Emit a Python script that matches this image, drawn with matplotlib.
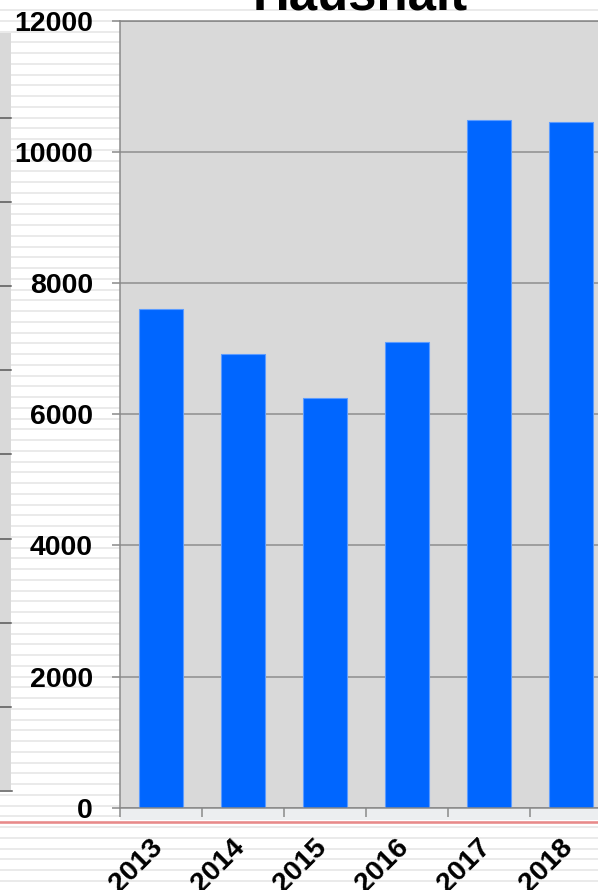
import matplotlib.pyplot as plt
from matplotlib.patches import Rectangle
from matplotlib.lines import Line2D
from matplotlib.transforms import ScaledTranslation

# chart data
years = ['2013', '2014', '2015', '2016', '2017', '2018']
values = [7600, 6920, 6250, 7100, 10480, 10460]
y_ticks = [0, 2000, 4000, 6000, 8000, 10000, 12000]
title = 'Haushalt'

W, H = 598, 890
plt.rcParams['font.family'] = ['Liberation Sans', 'DejaVu Sans']
plt.rcParams['font.weight'] = 'bold'

fig = plt.figure(figsize=(W / 100, H / 100), dpi=100)
fig.patch.set_facecolor('white')


def fx(px):
    return px / W


def fy(py):
    return 1 - py / H


def pt(px):
    return px * 72 / 100


# striped page background
y = 42.3 - 10.75 * 4
while y < H:
    fig.add_artist(Line2D([0, 1], [fy(y), fy(y)], transform=fig.transFigure,
                          color='#e5e5e5', lw=pt(1.6), zorder=-5))
    y += 10.75

# cut-off panel on the left edge
fig.add_artist(Rectangle((0, fy(790)), fx(11), fy(33) - fy(790),
                         transform=fig.transFigure, facecolor='#d9d9d9',
                         edgecolor='none', zorder=-4))
for k in range(9):
    yy = 117.7 + 84.2 * k
    x_end = 12 if k == 8 else 11
    fig.add_artist(Line2D([0, fx(x_end)], [fy(yy), fy(yy)], transform=fig.transFigure,
                          color='#555555', lw=pt(1.5), zorder=-3))

# band under the plot and red rule
fig.add_artist(Rectangle((fx(120), fy(820)), 1 - fx(120), fy(808) - fy(820),
                         transform=fig.transFigure, facecolor='#eceef0',
                         edgecolor='none', zorder=-3))
fig.add_artist(Line2D([0, 1], [fy(821.7), fy(821.7)], transform=fig.transFigure,
                      color='#e88a8a', lw=pt(2.6), zorder=-2))

# main axes (right part is cropped by the figure edge)
ax = fig.add_axes([fx(120), fy(807.7), 492 / W, (807.7 - 20.7) / H])
ax.set_facecolor('#d9d9d9')
x = list(range(len(years)))
ax.bar(x, values, width=0.54, color='#0066ff', edgecolor='#5c9cff', linewidth=0.8)

ax.set_xlim(-0.5, 5.5)
ax.set_ylim(0, 12000)
ax.set_yticks(y_ticks)
ax.set_yticklabels([str(v) for v in y_ticks])
ax.set_axisbelow(True)
ax.yaxis.grid(True, color='#8c8c8c', lw=pt(1.5))

ax.set_xticks([i - 0.5 for i in x])
ax.set_xticklabels([])
ax.set_xticks(x, labels=years, minor=True)
ax.tick_params(axis='x', which='major', length=pt(9), width=pt(1.5), color='#888888')
ax.tick_params(axis='x', which='minor', length=0, pad=19.0, labelsize=20.5)
ax.tick_params(axis='y', length=pt(8), width=pt(1.5), color='#888888', pad=13.7, labelsize=20.5)
shift = ScaledTranslation(7 / 100, 0, fig.dpi_scale_trans)
for lab in ax.get_xticklabels(minor=True):
    lab.set_rotation(45)
    lab.set_ha('right')
    lab.set_fontweight('bold')
    lab.set_transform(lab.get_transform() + shift)
for lab in ax.get_yticklabels():
    lab.set_fontweight('bold')

for side in ['left', 'bottom', 'top', 'right']:
    ax.spines[side].set_color('#888888')
    ax.spines[side].set_linewidth(pt(1.5))

fig.text(fx(360.5), fy(9.5), title, ha='center', va='baseline',
         fontsize=pt(51), fontweight='bold', zorder=5)

fig.savefig('out.png', dpi=100)
